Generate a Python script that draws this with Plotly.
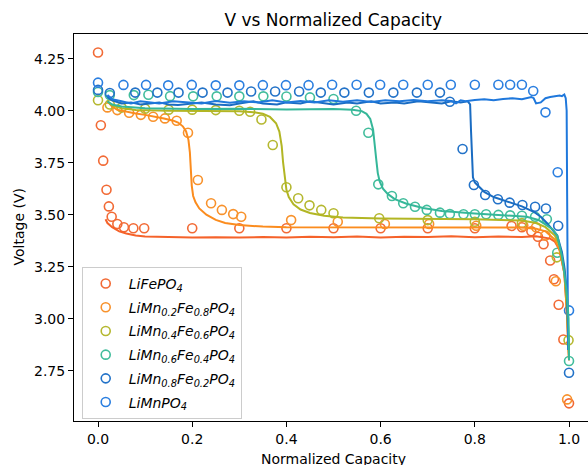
import plotly.graph_objects as go

# ---------------- data ----------------
series_names = [
    "<i>LiFePO<sub>4</sub></i>",
    "<i>LiMn<sub>0.2</sub>Fe<sub>0.8</sub>PO<sub>4</sub></i>",
    "<i>LiMn<sub>0.4</sub>Fe<sub>0.6</sub>PO<sub>4</sub></i>",
    "<i>LiMn<sub>0.6</sub>Fe<sub>0.4</sub>PO<sub>4</sub></i>",
    "<i>LiMn<sub>0.8</sub>Fe<sub>0.2</sub>PO<sub>4</sub></i>",
    "<i>LiMnPO<sub>4</sub></i>",
]
series_colors = ["#f26a35", "#f8922c", "#b5b830", "#42bd9c", "#2272c8", "#2b7fe0"]
line_colors = ["#f5622a", "#fb8c1e", "#b2b624", "#35b799", "#1a6cc2", "#1f78dc"]

# measured points (circles)
fe_pts_x = [0.0, 0.006, 0.011, 0.018, 0.023, 0.029, 0.041, 0.055, 0.075, 0.098, 0.2, 0.3, 0.4,
            0.5, 0.6, 0.7, 0.8, 0.878, 0.9, 0.92, 0.934, 0.946, 0.96, 0.968, 0.978, 0.988, 1.0]
fe_pts_v = [4.28, 3.93, 3.76, 3.62, 3.54, 3.49, 3.455, 3.44, 3.435, 3.435, 3.435, 3.435, 3.435,
            3.435, 3.435, 3.435, 3.435, 3.446, 3.44, 3.42, 3.394, 3.358, 3.28, 3.19, 3.067, 2.90, 2.593]

mn02_pts_x = [0.02, 0.041, 0.066, 0.091, 0.117, 0.142, 0.167, 0.191, 0.212, 0.24, 0.263, 0.287, 0.304,
              0.41, 0.509, 0.609, 0.703, 0.803, 0.903, 0.93, 0.95, 0.972, 0.996]
mn02_pts_v = [4.016, 4.003, 3.99, 3.98, 3.971, 3.963, 3.952, 3.894, 3.667, 3.555, 3.523, 3.503, 3.49,
              3.474, 3.466, 3.455, 3.455, 3.447, 3.447, 3.44, 3.40, 3.18, 2.612]

mn04_pts_x = [0.0, 0.025, 0.05, 0.1, 0.15, 0.2, 0.25, 0.3, 0.323, 0.347, 0.371, 0.40, 0.425, 0.449,
              0.474, 0.50, 0.597, 0.70, 0.80, 0.90, 0.974, 0.999]
mn04_pts_v = [4.05, 4.03, 4.015, 4.01, 4.005, 4.005, 4.003, 4.0, 3.995, 3.958, 3.835, 3.632, 3.579, 3.545,
              3.523, 3.507, 3.483, 3.474, 3.466, 3.46, 3.295, 2.897]

mn06_pts_x = [0.0, 0.025, 0.076, 0.107, 0.153, 0.202, 0.252, 0.30, 0.351, 0.40, 0.45, 0.50, 0.548,
              0.574, 0.595, 0.624, 0.648, 0.673, 0.698, 0.726, 0.747, 0.776, 0.80, 0.824, 0.85,
              0.875, 0.90, 0.928, 0.953, 0.975, 1.0]
mn06_pts_v = [4.09, 4.075, 4.075, 4.077, 4.07, 4.069, 4.069, 4.069, 4.069, 4.068, 4.064, 4.056, 4.0,
              3.894, 3.646, 3.59, 3.555, 3.538, 3.523, 3.51, 3.503, 3.502, 3.502, 3.502, 3.499,
              3.497, 3.495, 3.49, 3.478, 3.317, 2.797]

mn08_pts_x = [0.0, 0.025, 0.079, 0.126, 0.171, 0.222, 0.275, 0.325, 0.376, 0.427, 0.473, 0.523, 0.575,
              0.627, 0.677, 0.726, 0.747, 0.774, 0.798, 0.822, 0.849, 0.874, 0.901, 0.928, 0.951,
              0.977, 1.0]
mn08_pts_v = [4.10, 4.085, 4.087, 4.087, 4.087, 4.087, 4.087, 4.092, 4.092, 4.092, 4.087, 4.087, 4.087,
              4.087, 4.087, 4.087, 4.043, 3.816, 3.643, 3.595, 3.574, 3.558, 3.547, 3.538, 3.53,
              3.447, 2.74]

mn10_pts_x = [0.0, 0.054, 0.102, 0.149, 0.199, 0.25, 0.30, 0.35, 0.399, 0.447, 0.497, 0.549, 0.599,
              0.648, 0.70, 0.749, 0.80, 0.85, 0.875, 0.90, 0.924, 0.95, 0.976, 1.0]
mn10_pts_v = [4.135, 4.124, 4.124, 4.122, 4.124, 4.122, 4.122, 4.123, 4.123, 4.123, 4.125, 4.125, 4.125,
              4.125, 4.125, 4.125, 4.125, 4.125, 4.125, 4.125, 4.095, 3.992, 3.704, 3.04]

# model curves (lines)
fe_line_x = [0.016, 0.02, 0.03, 0.045, 0.06, 0.08, 0.1, 0.15, 0.2, 0.25, 0.3, 0.35, 0.4, 0.45, 0.5,
             0.55, 0.6, 0.65, 0.7, 0.75, 0.8, 0.85, 0.9, 0.93, 0.95, 0.96, 0.97, 0.98, 0.99, 0.995, 1.0]
fe_line_v = [3.478, 3.46, 3.44, 3.42, 3.41, 3.40, 3.395, 3.391, 3.39, 3.392, 3.39, 3.393, 3.391, 3.394,
             3.392, 3.395, 3.391, 3.394, 3.393, 3.396, 3.392, 3.395, 3.393, 3.396, 3.39, 3.385, 3.37,
             3.33, 3.22, 3.05, 2.80]

mn02_line_x = [0.02, 0.03, 0.04, 0.06, 0.08, 0.1, 0.12, 0.14, 0.16, 0.17, 0.18, 0.187, 0.192, 0.195,
               0.197, 0.199, 0.202, 0.207, 0.215, 0.23, 0.25, 0.27, 0.3, 0.35, 0.4, 0.6, 0.8, 0.9,
               0.93, 0.95, 0.97, 0.98, 0.99, 0.995, 1.0]
mn02_line_v = [4.045, 4.02, 4.005, 3.995, 3.987, 3.98, 3.972, 3.963, 3.952, 3.943, 3.925, 3.90, 3.86,
               3.80, 3.72, 3.64, 3.59, 3.56, 3.53, 3.50, 3.475, 3.46, 3.45, 3.443, 3.44, 3.44, 3.44,
               3.438, 3.433, 3.42, 3.38, 3.33, 3.22, 3.05, 2.80]

mn04_line_x = [0.02, 0.03, 0.05, 0.08, 0.15, 0.25, 0.3, 0.33, 0.35, 0.365, 0.378, 0.385, 0.39, 0.393,
               0.396, 0.4, 0.405, 0.415, 0.43, 0.45, 0.48, 0.52, 0.6, 0.7, 0.8, 0.9, 0.93, 0.95,
               0.97, 0.98, 0.99, 0.995, 1.0]
mn04_line_v = [4.045, 4.025, 4.012, 4.004, 4.0, 3.999, 3.997, 3.993, 3.985, 3.97, 3.94, 3.90, 3.83,
               3.75, 3.68, 3.62, 3.585, 3.55, 3.525, 3.508, 3.495, 3.487, 3.482, 3.48, 3.478, 3.472,
               3.46, 3.44, 3.40, 3.35, 3.24, 3.08, 2.82]

mn06_line_x = [0.02, 0.03, 0.05, 0.1, 0.2, 0.3, 0.4, 0.5, 0.54, 0.56, 0.57, 0.578, 0.584, 0.588,
               0.591, 0.594, 0.598, 0.605, 0.615, 0.63, 0.655, 0.69, 0.73, 0.8, 0.87, 0.91, 0.935,
               0.953, 0.965, 0.975, 0.985, 0.99, 0.995, 0.999, 1.0]
mn06_line_v = [4.045, 4.03, 4.02, 4.012, 4.008, 4.01, 4.006, 4.008, 4.005, 3.998, 3.985, 3.96, 3.91,
               3.84, 3.76, 3.70, 3.66, 3.625, 3.60, 3.575, 3.553, 3.532, 3.518, 3.506, 3.497, 3.49,
               3.475, 3.45, 3.43, 3.40, 3.30, 3.22, 3.13, 3.0, 2.80]

mn08_line_x = [0.02, 0.03, 0.05, 0.07, 0.09, 0.11, 0.13, 0.15, 0.17, 0.2, 0.22, 0.25, 0.28, 0.3, 0.33,
               0.35, 0.38, 0.4, 0.43, 0.45, 0.48, 0.5, 0.53, 0.55, 0.58, 0.6, 0.63, 0.65, 0.68, 0.7,
               0.73, 0.75, 0.77, 0.785, 0.79, 0.792, 0.794, 0.796, 0.8, 0.81, 0.82, 0.84, 0.875,
               0.9, 0.925, 0.94, 0.953, 0.965, 0.975, 0.985, 0.99, 0.995, 1.0]
mn08_line_v = [4.065, 4.05, 4.035, 4.04, 4.03, 4.035, 4.04, 4.03, 4.027, 4.035, 4.04, 4.03, 4.026,
               4.035, 4.045, 4.035, 4.03, 4.04, 4.035, 4.045, 4.035, 4.03, 4.04, 4.035, 4.045, 4.035,
               4.04, 4.035, 4.045, 4.04, 4.035, 4.045, 4.04, 4.045, 4.03, 3.90, 3.75, 3.68, 3.655,
               3.63, 3.61, 3.585, 3.56, 3.54, 3.514, 3.49, 3.46, 3.43, 3.40, 3.32, 3.25, 3.14, 2.85]

mn10_line_x = [0.02, 0.03, 0.05, 0.07, 0.09, 0.11, 0.13, 0.16, 0.19, 0.22, 0.25, 0.28, 0.31, 0.34,
               0.37, 0.4, 0.43, 0.46, 0.49, 0.52, 0.55, 0.58, 0.61, 0.64, 0.67, 0.7, 0.73, 0.75,
               0.76, 0.77, 0.78, 0.8, 0.82, 0.84, 0.86, 0.88, 0.9, 0.92, 0.925, 0.93, 0.94, 0.95,
               0.96, 0.97, 0.98, 0.985, 0.99, 0.993, 0.995, 0.996, 0.997, 0.998]
mn10_line_v = [4.075, 4.055, 4.045, 4.035, 4.045, 4.04, 4.035, 4.045, 4.04, 4.035, 4.047, 4.038,
               4.045, 4.04, 4.05, 4.04, 4.047, 4.04, 4.05, 4.043, 4.05, 4.042, 4.05, 4.045, 4.052,
               4.045, 4.05, 4.047, 4.035, 4.05, 4.045, 4.052, 4.055, 4.05, 4.056, 4.06, 4.055,
               4.066, 4.06, 4.035, 4.04, 4.06, 4.066, 4.07, 4.073, 4.07, 4.078, 4.06, 4.0, 3.6,
               3.2, 2.85]

pts_x = [fe_pts_x, mn02_pts_x, mn04_pts_x, mn06_pts_x, mn08_pts_x, mn10_pts_x]
pts_v = [fe_pts_v, mn02_pts_v, mn04_pts_v, mn06_pts_v, mn08_pts_v, mn10_pts_v]
lines_x = [fe_line_x, mn02_line_x, mn04_line_x, mn06_line_x, mn08_line_x, mn10_line_x]
lines_v = [fe_line_v, mn02_line_v, mn04_line_v, mn06_line_v, mn08_line_v, mn10_line_v]

x_ticks = [0.0, 0.2, 0.4, 0.6, 0.8, 1.0]
y_ticks = [2.75, 3.00, 3.25, 3.50, 3.75, 4.00, 4.25]

# ---------------- figure ----------------
FONT = "DejaVu Sans"
fig = go.Figure()

for i in range(6):
    fig.add_trace(go.Scatter(
        x=pts_x[i], y=pts_v[i], mode="markers", name=series_names[i],
        legendgroup="g%d" % i,
        marker=dict(symbol="circle-open", size=9, color=series_colors[i],
                    line=dict(width=1.6, color=series_colors[i])),
    ))

for i in [0, 1, 2, 4, 5, 3]:
    fig.add_trace(go.Scatter(
        x=lines_x[i], y=lines_v[i], mode="lines", showlegend=False,
        line=dict(color=line_colors[i], width=2),
    ))

fig.update_layout(
    width=588, height=465,
    margin=dict(l=74, r=0, t=34, b=44),
    paper_bgcolor="white", plot_bgcolor="white",
    font=dict(family=FONT, size=14, color="black"),
    title=dict(text="V vs Normalized Capacity", x=0.5667, xanchor="center",
               y=1 - 20 / 465, yanchor="middle", yref="container",
               font=dict(size=17, color="black")),
    showlegend=True,
    legend=dict(x=0.015, y=0.398, xanchor="left", yanchor="top",
                bgcolor="white", bordercolor="#cccccc", borderwidth=1,
                font=dict(size=14, family=FONT), tracegroupgap=2.5,
                itemwidth=36),
    xaxis=dict(range=[-0.051, 1.0403], tickvals=x_ticks,
               ticktext=["%.1f" % v for v in x_ticks],
               showgrid=False, zeroline=False, showline=True, linecolor="black",
               linewidth=1, mirror=True, ticks="outside", ticklen=5, tickcolor="black",
               tickfont=dict(size=14)),
    yaxis=dict(range=[2.5082, 4.3688], tickvals=y_ticks,
               ticktext=["%.2f" % v for v in y_ticks],
               showgrid=False, zeroline=False, showline=True, linecolor="black",
               linewidth=1, mirror=False, ticks="outside", ticklen=5, tickcolor="black",
               tickfont=dict(size=14)),
    annotations=[
        dict(text="Voltage (V)", xref="paper", yref="paper", x=-(74 - 18) / 514, y=0.5,
             xanchor="center", yanchor="middle", textangle=-90, showarrow=False,
             font=dict(size=14)),
        dict(text="Normalized Capacity", xref="paper", yref="paper", x=(333 - 74) / 514,
             y=-(449 - 421) / 387, xanchor="center", yanchor="top", showarrow=False,
             font=dict(size=14)),
    ],
)

fig.write_html("out.html")
